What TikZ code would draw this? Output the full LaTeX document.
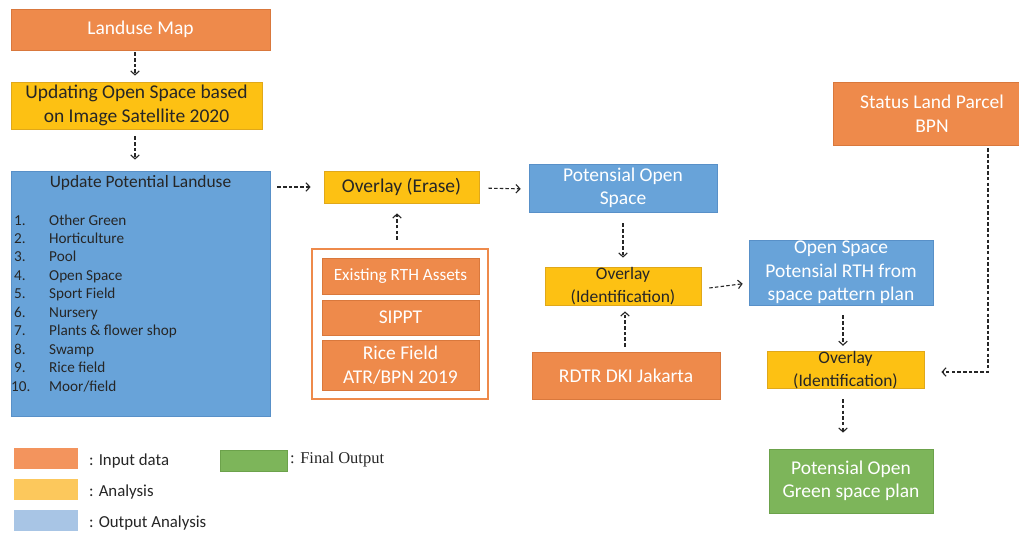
\documentclass[tikz,border=0pt]{standalone}
\usepackage{fontspec}
\setmainfont{Carlito}
\newfontfamily\legserif{Liberation Serif}
\usetikzlibrary{arrows.meta}
\definecolor{cOr}{HTML}{EE8A4B}
\definecolor{cOrD}{HTML}{D9783C}
\definecolor{cYe}{HTML}{FDC113}
\definecolor{cYeD}{HTML}{E0A81A}
\definecolor{cBl}{HTML}{68A3D9}
\definecolor{cBlD}{HTML}{5890C8}
\definecolor{cGr}{HTML}{7DB55A}
\definecolor{cGrD}{HTML}{6CA24B}
\definecolor{lgOr}{HTML}{F3945D}
\definecolor{lgYe}{HTML}{FCC85C}
\definecolor{lgBl}{HTML}{A8C5E5}
\definecolor{txt}{HTML}{262626}
\definecolor{arrc}{HTML}{262626}
\begin{document}
\begin{tikzpicture}[x=1pt,y=-1pt,
  base/.style={inner sep=0pt, align=center, line width=0.7pt, font=\fontsize{19.5}{23.5}\selectfont},
  inbox/.style={base, draw=cOrD, fill=cOr, text=white},
  anbox/.style={base, draw=cYeD, fill=cYe, text=txt},
  outbox/.style={base, draw=cBlD, fill=cBl, text=white},
  finbox/.style={base, draw=cGrD, fill=cGr, text=white},
  conn/.style={draw=arrc, line width=1.1pt, dash pattern=on 3.5pt off 2.2pt, -{Straight Barb[length=4pt,width=8.5pt]}},
  swatch/.style={inner sep=0pt, minimum width=64pt, minimum height=21pt},
  legtext/.style={anchor=west, inner sep=0pt, text=txt, font=\fontsize{16.8}{19}\selectfont}
]
\useasboundingbox[fill=white] (0,0) rectangle (1019,533);

% nodes
\node[inbox, minimum width=259pt, minimum height=41pt] (landuse) at (140.5,29.5) {Landuse Map};
\node[anbox, minimum width=251pt, minimum height=47pt, text=txt] (upd) at (136.5,105.5) {Updating Open Space based\\on Image Satellite 2020};
\node[outbox, minimum width=259pt, minimum height=245pt] (upl) at (140.5,293.5) {};
\node[inner sep=0pt, text=txt, font=\fontsize{17.4}{19}\selectfont] (uplhead) at (140.5,183) {Update Potential Landuse};
\node[anchor=north west, inner sep=0pt, text=txt, font=\fontsize{15.2}{18.44}\selectfont, align=left] (upllist) at (14,212)
 {\begin{tabular}{@{}l@{}l@{}}
 \makebox[35pt][l]{1.} & Other Green\\
 2. & Horticulture\\
 3. & Pool\\
 4. & Open Space\\
 5. & Sport Field\\
 6. & Nursery\\
 7. & Plants \& flower shop\\
 8. & Swamp\\
 9. & Rice field\\
 \hspace*{-3pt}10. & Moor/field
 \end{tabular}};

\node[anbox, minimum width=155pt, minimum height=32pt] (ove) at (401.5,187) {Overlay (Erase)};
\node[outbox, minimum width=188pt, minimum height=48pt] (pos) at (623,188) {Potensial Open\\Space};

\node[draw=cOr, line width=2.5pt, fill=white, minimum width=176pt, minimum height=150pt, inner sep=0pt] (grp) at (400,324) {};
\node[inbox, minimum width=157pt, minimum height=36pt, font=\fontsize{17.2}{19}\selectfont] (rth) at (400.5,276) {Existing RTH Assets};
\node[inbox, minimum width=157pt, minimum height=35pt] (sippt) at (400.5,317.5) {SIPPT};
\node[inbox, minimum width=157pt, minimum height=50pt] (rice) at (400.5,365) {Rice Field\\ATR/BPN 2019};

\node[anbox, minimum width=156pt, minimum height=38pt, font=\fontsize{17.5}{23}\selectfont] (ovm) at (623,286) {Overlay\\(Identification)};
\node[inbox, minimum width=188pt, minimum height=47pt] (rdtr) at (626,375.5) {RDTR DKI Jakarta};

\node[outbox, minimum width=184pt, minimum height=65pt] (osr) at (841,272.5) {Open Space\\Potensial RTH from\\space pattern plan};
\node[inbox, minimum width=198pt, minimum height=63pt] (status) at (932,113.5) {Status Land Parcel\\BPN};
\node[anbox, minimum width=157pt, minimum height=36pt, font=\fontsize{17.5}{23}\selectfont] (ovr) at (845.5,370) {Overlay\\(Identification)};
\node[finbox, minimum width=164pt, minimum height=64pt] (green) at (851,481) {Potensial Open\\Green space plan};

% connectors
\draw[conn, shorten <=2pt, shorten >=6pt] ([xshift=-5.5pt]landuse.south) -- ([xshift=-1.5pt]upd.north);
\draw[conn, shorten <=7pt, shorten >=11pt] ([xshift=-1.5pt]upd.south) -- ([xshift=-5.5pt]upl.north);
\draw[conn, shorten <=7pt, shorten >=13pt] (upl.east |- ove.west) -- (ove.west);
\draw[conn, shorten <=9pt, shorten >=8pt] ([yshift=-1pt]ove.east) -- ([yshift=-1pt]pos.west);
\draw[conn, shorten <=8pt, shorten >=10pt] ([xshift=-3pt]grp.north) -- ([xshift=-4.5pt]ove.south);
\draw[conn, shorten <=11pt, shorten >=9pt] (pos.south) -- (ovm.north);
\draw[conn, shorten <=5pt, shorten >=6pt] ([xshift=-1pt]rdtr.north) -- ([xshift=2pt]ovm.south);
\draw[conn, shorten <=8pt, shorten >=6pt] ([yshift=-3pt]ovm.east) -- ([yshift=-10.5pt]osr.west);
\draw[conn, shorten <=10pt, shorten >=5pt] ([xshift=2pt]osr.south) -- ([xshift=-2.5pt]ovr.north);
\draw[conn, shorten <=3pt, shorten >=17pt] ([xshift=56pt]status.south) |- ([yshift=-2pt]ovr.east);
\draw[conn, shorten <=10pt, shorten >=16pt] ([xshift=-2.5pt]ovr.south) -- ([xshift=-8pt]green.north);

% legend
\node[swatch, fill=lgOr] (lgin) at (46,458.5) {};
\node[legtext] (lgintxt) at (89,461) {: Input data};
\node[swatch, fill=lgYe] (lgan) at (46,489.5) {};
\node[legtext] (lgantxt) at (89,492.5) {: Analysis};
\node[swatch, fill=lgBl] (lgout) at (46,520) {};
\node[legtext] (lgouttxt) at (89,523.5) {: Output Analysis};
\node[swatch, fill=cGr, draw=cGrD, line width=0.5pt, minimum width=67pt] (lgfin) at (253.5,460.5) {};
\node[legtext, font=\legserif\fontsize{16.5}{19}\selectfont] (lgfintxt) at (290,460) {: Final Output};
\end{tikzpicture}
\end{document}
